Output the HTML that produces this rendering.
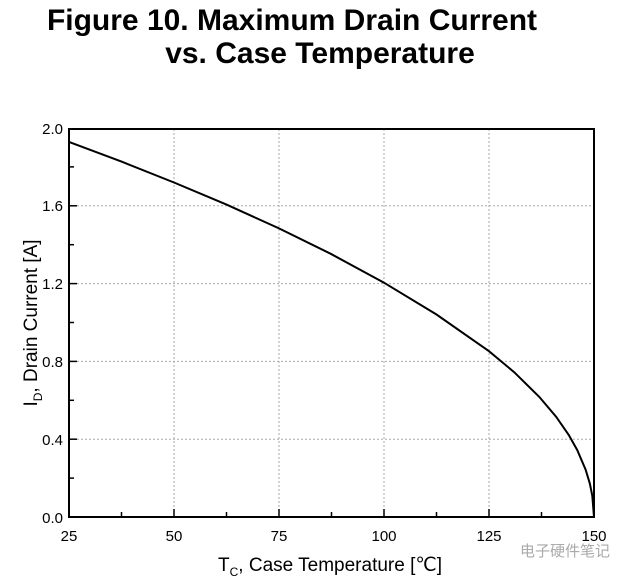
<!DOCTYPE html>
<html><head><style>body{margin:0;background:#fff;width:635px;height:580px;overflow:hidden;font-family:"Liberation Sans",Arial,sans-serif}</style></head><body>
<svg width="635" height="580" xmlns="http://www.w3.org/2000/svg" font-family="Liberation Sans, Arial, sans-serif">
<text x="292" y="30" font-size="30" font-weight="bold" text-anchor="middle">Figure 10. Maximum Drain Current</text>
<text x="320" y="63" font-size="30" font-weight="bold" text-anchor="middle">vs. Case Temperature</text>
<g stroke="#aaa" stroke-dasharray="2,2" stroke-width="1">
<line x1="174" y1="129" x2="174" y2="517"/><line x1="279" y1="129" x2="279" y2="517"/><line x1="384" y1="129" x2="384" y2="517"/><line x1="489" y1="129" x2="489" y2="517"/>
<line x1="69" y1="439.2" x2="594" y2="439.2"/><line x1="69" y1="361.4" x2="594" y2="361.4"/><line x1="69" y1="283.6" x2="594" y2="283.6"/><line x1="69" y1="205.8" x2="594" y2="205.8"/>
</g>
<g stroke="#000" stroke-width="1.5">
<line x1="174" y1="517" x2="174" y2="509"/><line x1="279" y1="517" x2="279" y2="509"/><line x1="384" y1="517" x2="384" y2="509"/><line x1="489" y1="517" x2="489" y2="509"/>
<line x1="121.5" y1="517" x2="121.5" y2="512"/><line x1="226.5" y1="517" x2="226.5" y2="512"/><line x1="331.5" y1="517" x2="331.5" y2="512"/><line x1="436.5" y1="517" x2="436.5" y2="512"/><line x1="541.5" y1="517" x2="541.5" y2="512"/>
<line x1="69" y1="439.2" x2="77" y2="439.2"/><line x1="69" y1="361.4" x2="77" y2="361.4"/><line x1="69" y1="283.6" x2="77" y2="283.6"/><line x1="69" y1="205.8" x2="77" y2="205.8"/>
<line x1="69" y1="478.1" x2="74" y2="478.1"/><line x1="69" y1="400.3" x2="74" y2="400.3"/><line x1="69" y1="322.5" x2="74" y2="322.5"/><line x1="69" y1="244.7" x2="74" y2="244.7"/><line x1="69" y1="166.9" x2="74" y2="166.9"/>
</g>
<rect x="69" y="129" width="525" height="388" fill="none" stroke="#000" stroke-width="2"/>
<polyline fill="none" stroke="#000" stroke-width="2" points="69,141.9 121.5,161.6 174,182.5 226.5,204.6 279,228.4 331.5,254.2 384,282.7 436.5,314.5 489,351.2 514.2,372.2 539.4,397 556.2,416.8 568.8,435 577.2,450 585.6,469.6 589.8,483.4 592.3,495.8 594,517"/>
<g font-size="15" text-anchor="end">
<text x="63" y="523">0.0</text><text x="63" y="445">0.4</text><text x="63" y="367">0.8</text><text x="63" y="289">1.2</text><text x="63" y="211">1.6</text><text x="63" y="134">2.0</text>
</g>
<g font-size="15" text-anchor="middle">
<text x="69" y="541">25</text><text x="174" y="541">50</text><text x="279" y="541">75</text><text x="384" y="541">100</text><text x="489" y="541">125</text><text x="594" y="541">150</text>
</g>
<text x="330" y="571" font-size="19" text-anchor="middle">T<tspan font-size="12" dy="5">C</tspan><tspan dy="-5">, Case Temperature [℃]</tspan></text>
<text transform="translate(37,323) rotate(-90)" font-size="19" text-anchor="middle">I<tspan font-size="12" dy="5">D</tspan><tspan dy="-5">, Drain Current [A]</tspan></text>
<text x="565" y="556" font-size="15" fill="#aaa" text-anchor="middle" font-family="Noto Sans CJK SC, sans-serif">电子硬件笔记</text>
</svg>
</body></html>
